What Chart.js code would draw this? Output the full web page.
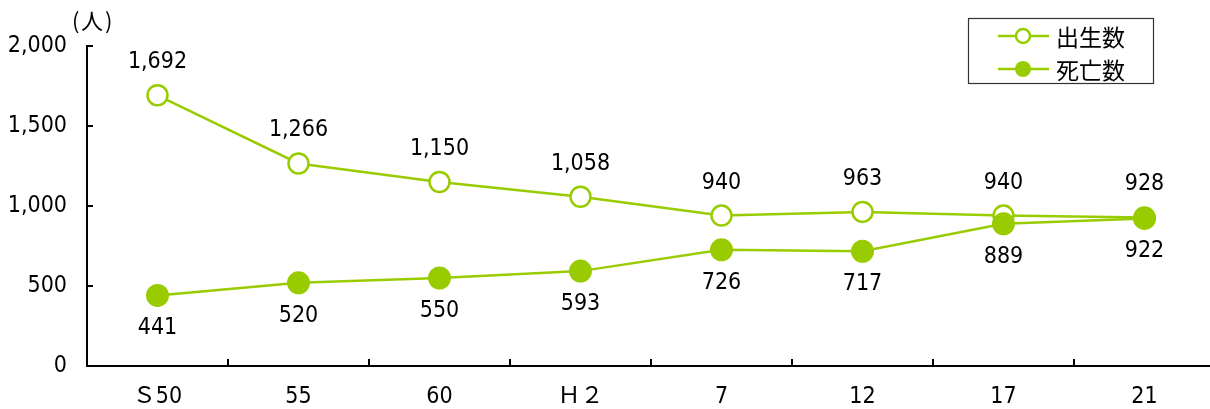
<!DOCTYPE html>
<html lang="ja">
<head>
<meta charset="utf-8">
<title>出生数・死亡数の推移</title>
<script src="https://cdn.jsdelivr.net/npm/chart.js@4/dist/chart.umd.min.js"></script>
<style>
  html, body { margin: 0; padding: 0; background: #fff; overflow: hidden; }
  canvas { display: block; }
</style>
</head>
<body>
<canvas id="chart" width="1216" height="409"></canvas>
<script>
// Years (昭和50年 … 平成21年)
const categories = ['Ｓ50', '55', '60', 'Ｈ２', '7', '12', '17', '21'];
// 出生数 (births)
const births = [1692, 1266, 1150, 1058, 940, 963, 940, 928];
// 死亡数 (deaths)
const deaths = [441, 520, 550, 593, 726, 717, 889, 922];
// y-axis tick values
const yTicks = [0, 500, 1000, 1500, 2000];
const seriesNames = ['出生数', '死亡数'];

const GREEN = '#99CC00';
const JP_FONT = '"Noto Sans CJK JP", sans-serif';

// Prefer a narrow face for the numerals when one is installed
function fontAvailable(name) {
  const c = document.createElement('canvas').getContext('2d');
  const s = '0123456789,SH';
  return ['monospace', 'serif'].some(base => {
    c.font = '40px ' + base;
    const w0 = c.measureText(s).width;
    c.font = '40px "' + name + '", ' + base;
    return c.measureText(s).width !== w0;
  });
}
const narrowFaces = ['Liberation Sans Narrow', 'Arial Narrow', 'Noto Sans Condensed',
  'DejaVu Sans Condensed', 'Roboto Condensed', 'Open Sans Condensed'];
const narrow = narrowFaces.find(fontAvailable);
const NUM_FONT = (narrow ? '"' + narrow + '", ' : '') + '"Noto Sans CJK JP", sans-serif';

function fmt(v) {
  return v.toLocaleString('en-US');
}

// Inward tick marks on both axes, plus the unit caption
const axisDecor = {
  id: 'axisDecor',
  afterDraw(chart) {
    const ctx = chart.ctx;
    const x = chart.scales.x, y = chart.scales.y;
    const area = chart.chartArea;
    ctx.save();
    ctx.strokeStyle = '#000';
    ctx.lineWidth = 2;
    ctx.beginPath();
    for (let i = 1; i < categories.length; i++) {
      const px = Math.round((x.getPixelForValue(i - 1) + x.getPixelForValue(i)) / 2);
      ctx.moveTo(px, area.bottom);
      ctx.lineTo(px, area.bottom - 7);
    }
    yTicks.forEach(v => {
      if (v === 0) return;
      const py = Math.round(y.getPixelForValue(v));
      ctx.moveTo(area.left, py);
      ctx.lineTo(area.left + 6, py);
    });
    ctx.stroke();

    ctx.fillStyle = '#000';
    ctx.textAlign = 'left';
    ctx.textBaseline = 'middle';
    ctx.font = '22px ' + JP_FONT;
    ctx.fillText('(', 72, 21);
    ctx.fillText('人', 81, 21);
    ctx.fillText(')', 105, 21);
    ctx.restore();
  }
};

// Value labels: births above each point, deaths below
const valueLabels = {
  id: 'valueLabels',
  afterDatasetsDraw(chart) {
    const ctx = chart.ctx;
    ctx.save();
    ctx.fillStyle = '#000';
    ctx.font = '23px ' + NUM_FONT;
    ctx.textAlign = 'center';
    ctx.textBaseline = 'middle';
    chart.data.datasets.forEach((ds, di) => {
      const meta = chart.getDatasetMeta(di);
      const dir = di === 0 ? -1 : 1;
      meta.data.forEach((pt, i) => {
        ctx.fillText(fmt(ds.data[i]), pt.x, pt.y + dir * 33);
      });
    });
    ctx.restore();
  }
};

// Boxed legend in the upper right
const boxLegend = {
  id: 'boxLegend',
  afterDraw(chart) {
    const ctx = chart.ctx;
    ctx.save();
    ctx.strokeStyle = '#333';
    ctx.lineWidth = 1.2;
    ctx.strokeRect(968.5, 18.5, 185, 65);
    const rows = [36, 69];
    rows.forEach((ry, i) => {
      ctx.strokeStyle = GREEN;
      ctx.lineWidth = 2.5;
      ctx.beginPath();
      ctx.moveTo(998, ry);
      ctx.lineTo(1049, ry);
      ctx.stroke();
      ctx.beginPath();
      ctx.arc(1023, ry, i === 0 ? 7 : 8, 0, Math.PI * 2);
      if (i === 0) {
        ctx.fillStyle = '#fff';
        ctx.fill();
        ctx.lineWidth = 2.5;
        ctx.stroke();
      } else {
        ctx.fillStyle = GREEN;
        ctx.fill();
      }
      ctx.fillStyle = '#000';
      ctx.font = '23px ' + JP_FONT;
      ctx.textAlign = 'left';
      ctx.textBaseline = 'middle';
      ctx.fillText(seriesNames[i], 1056, ry + 1);
    });
    ctx.restore();
  }
};

new Chart(document.getElementById('chart'), {
  type: 'line',
  data: {
    labels: categories,
    datasets: [
      {
        label: seriesNames[0],
        data: births,
        order: 1,
        borderColor: GREEN,
        borderWidth: 2.5,
        backgroundColor: '#fff',
        pointBackgroundColor: '#fff',
        pointBorderColor: GREEN,
        pointBorderWidth: 2.5,
        pointRadius: 10,
        pointHoverRadius: 10,
        tension: 0
      },
      {
        label: seriesNames[1],
        data: deaths,
        order: 0,
        borderColor: GREEN,
        borderWidth: 2.5,
        backgroundColor: GREEN,
        pointBackgroundColor: GREEN,
        pointBorderColor: GREEN,
        pointBorderWidth: 0,
        pointRadius: 11.5,
        pointHoverRadius: 11.5,
        tension: 0
      }
    ]
  },
  options: {
    responsive: false,
    animation: false,
    events: [],
    layout: { autoPadding: false, padding: { top: 46, right: 1, left: 0, bottom: 0 } },
    plugins: {
      legend: { display: false },
      tooltip: { enabled: false }
    },
    scales: {
      x: {
        type: 'category',
        offset: true,
        grid: { display: true, drawOnChartArea: false, drawTicks: false, offset: true },
        border: { display: true, color: '#000', width: 2 },
        ticks: {
          color: '#000',
          font: { family: NUM_FONT, size: 23 },
          padding: 17,
          maxRotation: 0,
          autoSkip: false
        },
        afterFit(scale) {
          scale.height = 43;
          scale.paddingLeft = 0;
          scale.paddingRight = 0;
        }
      },
      y: {
        min: 0,
        max: 2000,
        afterBuildTicks(scale) { scale.ticks = yTicks.map(v => ({ value: v })); },
        grid: { display: true, drawOnChartArea: false, drawTicks: false },
        border: { display: true, color: '#000', width: 2 },
        ticks: {
          color: '#000',
          font: { family: NUM_FONT, size: 23 },
          padding: 20,
          callback: v => fmt(v)
        },
        afterFit(scale) { scale.width = 87; }
      }
    }
  },
  plugins: [axisDecor, valueLabels, boxLegend]
});
</script>
</body>
</html>
